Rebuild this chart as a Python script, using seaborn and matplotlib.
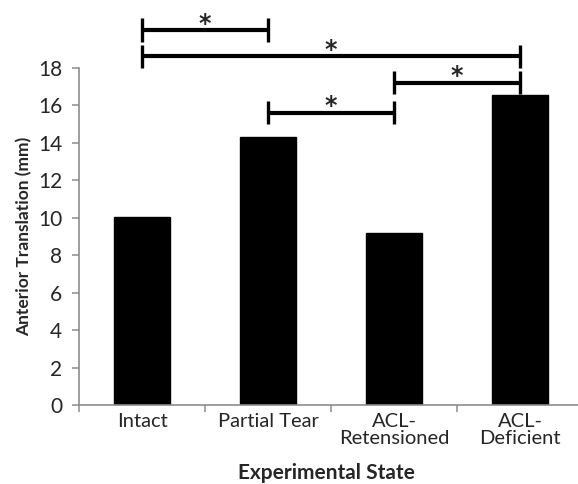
import matplotlib
matplotlib.use("Agg")
import matplotlib.pyplot as plt
import seaborn as sns
import numpy as np

# data
states = ["Intact", "Partial Tear", "ACL-\nRetensioned", "ACL-\nDeficient"]
translation = [10.05, 14.3, 9.18, 16.52]

# significance brackets: (left bar, right bar, bracket height)
sig_left = [0, 0, 2, 1]
sig_right = [1, 3, 3, 2]
sig_height = [20.0, 18.6, 17.2, 15.6]

sns.set_style("ticks")
plt.rcParams["font.family"] = ["Lato", "DejaVu Sans"]

fig = plt.figure(figsize=(5.78, 4.84), dpi=100)
ax = fig.add_axes([0.1367, 0.1632, 0.872, 0.6973])

sns.barplot(x=states, y=translation, color="black", width=0.44,
            saturation=1, edgecolor="black", ax=ax)

ax.set_xlim(-0.5, 3.5)
ax.set_ylim(0, 18)
ax.set_yticks(np.arange(0, 19, 2))

# excel style: ticks between categories, none under labels
ax.set_xticks(np.arange(-0.5, 4, 1), minor=True)
ax.tick_params(axis="x", which="major", length=0, pad=6, labelsize=14.5)
ax.tick_params(axis="x", which="minor", length=5, width=1.1, color="#8c8c8c")
ax.tick_params(axis="y", length=5, width=1.1, color="#8c8c8c", pad=7, labelsize=15)
for lbl in ax.get_xticklabels():
    lbl.set_linespacing(1.0)

sns.despine(ax=ax)
for side in ["left", "bottom"]:
    ax.spines[side].set_color("#8c8c8c")
    ax.spines[side].set_linewidth(1.2)

ax.set_xlabel("Experimental State", fontsize=15, fontweight="bold")
ax.set_ylabel("Anterior Translation (mm)", fontsize=12.5, fontweight="bold")
ax.xaxis.set_label_coords(0.49, -0.2)
ax.xaxis.label.set_va("center")
ax.yaxis.set_label_coords(-0.109, 0.5)
ax.yaxis.label.set_va("center")

# significance brackets above the bars
tick_half = 0.62
for a, b, h in zip(sig_left, sig_right, sig_height):
    ax.plot([a, b], [h, h], color="black", lw=3.0, clip_on=False, solid_capstyle="butt")
    for xx in [a, b]:
        ax.plot([xx, xx], [h - tick_half, h + tick_half], color="black", lw=2.4,
                clip_on=False, solid_capstyle="butt")
    ax.text((a + b) / 2, h - 0.05, "*", ha="center", va="baseline",
            fontsize=17, fontweight="bold", family="DejaVu Sans", clip_on=False)

fig.savefig("out.png", dpi=100)
